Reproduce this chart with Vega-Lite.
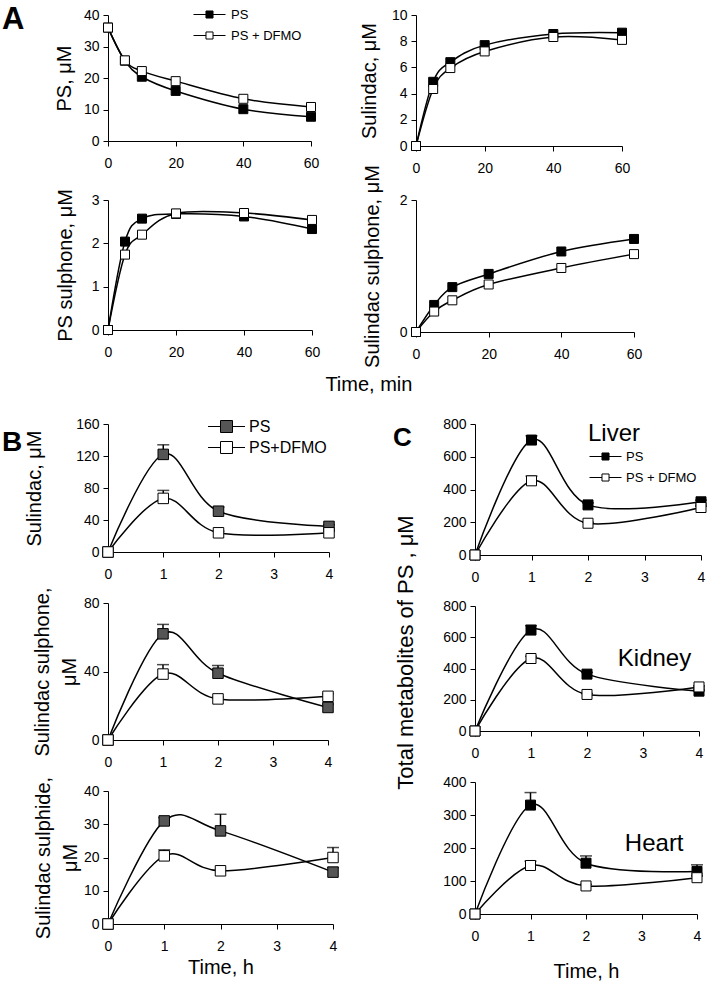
{
"$schema": "https://vega.github.io/schema/vega-lite/v6.json",
"padding": {"left": 2, "top": 4, "right": 0, "bottom": 0},
"config": {
  "font": "Liberation Sans",
  "view": {"stroke": null},
  "axis": {"grid": false, "domainColor": "black", "tickColor": "black", "labelColor": "black", "titleColor": "black", "labelFontSize": 14, "titleFontSize": 20, "titleFontWeight": 400, "tickSize": 5, "labelFont": "Liberation Sans", "titleFont": "Liberation Sans"},
  "axisX": {"labelPadding": 10, "labelFlush": false, "titlePadding": 4, "titleFontWeight": 400},
  "axisY": {"labelPadding": 4, "titlePadding": 10, "titleFontWeight": 400},
  "title": {"font": "Liberation Sans", "color": "black"}
},
"datasets": {
  "A1": [
    {"s":"PS","t":0,"v":36},{"s":"PS","t":5,"v":25.5},{"s":"PS","t":10,"v":20.4},{"s":"PS","t":20,"v":15.9},{"s":"PS","t":40,"v":10.1},{"s":"PS","t":60,"v":7.7},
    {"s":"PS + DFMO","t":0,"v":36},{"s":"PS + DFMO","t":5,"v":25.6},{"s":"PS + DFMO","t":10,"v":22.2},{"s":"PS + DFMO","t":20,"v":19},{"s":"PS + DFMO","t":40,"v":13.4},{"s":"PS + DFMO","t":60,"v":10.8}
  ],
  "A2": [
    {"s":"PS","t":0,"v":0},{"s":"PS","t":5,"v":4.9},{"s":"PS","t":10,"v":6.4},{"s":"PS","t":20,"v":7.7},{"s":"PS","t":40,"v":8.55},{"s":"PS","t":60,"v":8.65},
    {"s":"PS + DFMO","t":0,"v":0},{"s":"PS + DFMO","t":5,"v":4.35},{"s":"PS + DFMO","t":10,"v":5.95},{"s":"PS + DFMO","t":20,"v":7.22},{"s":"PS + DFMO","t":40,"v":8.32},{"s":"PS + DFMO","t":60,"v":8.1}
  ],
  "A3": [
    {"s":"PS","t":0,"v":0},{"s":"PS","t":5,"v":2.04},{"s":"PS","t":10,"v":2.57},{"s":"PS","t":20,"v":2.68},{"s":"PS","t":40,"v":2.62},{"s":"PS","t":60,"v":2.33},
    {"s":"PS + DFMO","t":0,"v":0},{"s":"PS + DFMO","t":5,"v":1.74},{"s":"PS + DFMO","t":10,"v":2.2},{"s":"PS + DFMO","t":20,"v":2.69},{"s":"PS + DFMO","t":40,"v":2.7},{"s":"PS + DFMO","t":60,"v":2.54}
  ],
  "A4": [
    {"s":"PS","t":0,"v":0},{"s":"PS","t":5,"v":0.41},{"s":"PS","t":10,"v":0.68},{"s":"PS","t":20,"v":0.88},{"s":"PS","t":40,"v":1.22},{"s":"PS","t":60,"v":1.41},
    {"s":"PS + DFMO","t":0,"v":0},{"s":"PS + DFMO","t":5,"v":0.31},{"s":"PS + DFMO","t":10,"v":0.48},{"s":"PS + DFMO","t":20,"v":0.72},{"s":"PS + DFMO","t":40,"v":0.97},{"s":"PS + DFMO","t":60,"v":1.18}
  ],
  "B1": [
    {"s":"PS","t":0,"v":0},{"s":"PS","t":1,"v":122,"hi":134},{"s":"PS","t":2,"v":51,"hi":56},{"s":"PS","t":4,"v":32,"hi":34},
    {"s":"PS+DFMO","t":0,"v":0},{"s":"PS+DFMO","t":1,"v":67,"hi":77},{"s":"PS+DFMO","t":2,"v":24,"hi":26},{"s":"PS+DFMO","t":4,"v":24,"hi":26}
  ],
  "B2": [
    {"s":"PS","t":0,"v":0},{"s":"PS","t":1,"v":62,"hi":67.5},{"s":"PS","t":2,"v":39,"hi":43.5},{"s":"PS","t":4,"v":19,"hi":21},
    {"s":"PS+DFMO","t":0,"v":0},{"s":"PS+DFMO","t":1,"v":38.5,"hi":44},{"s":"PS+DFMO","t":2,"v":24,"hi":25},{"s":"PS+DFMO","t":4,"v":25.5,"hi":27}
  ],
  "B3": [
    {"s":"PS","t":0,"v":0},{"s":"PS","t":1,"v":31,"hi":32},{"s":"PS","t":2,"v":28,"hi":33},{"s":"PS","t":4,"v":15.6,"hi":17},
    {"s":"PS+DFMO","t":0,"v":0},{"s":"PS+DFMO","t":1,"v":20.5,"hi":22.3},{"s":"PS+DFMO","t":2,"v":16},{"s":"PS+DFMO","t":4,"v":20,"hi":23}
  ],
  "C1": [
    {"s":"PS","t":0,"v":0},{"s":"PS","t":1,"v":702,"hi":728},{"s":"PS","t":2,"v":306,"hi":318},{"s":"PS","t":4,"v":325,"hi":335},
    {"s":"PS + DFMO","t":0,"v":0},{"s":"PS + DFMO","t":1,"v":453,"hi":482},{"s":"PS + DFMO","t":2,"v":194,"hi":200},{"s":"PS + DFMO","t":4,"v":290,"hi":298}
  ],
  "C2": [
    {"s":"PS","t":0,"v":0},{"s":"PS","t":1,"v":646,"hi":675},{"s":"PS","t":2,"v":364,"hi":375},{"s":"PS","t":4,"v":255,"hi":262},
    {"s":"PS + DFMO","t":0,"v":0},{"s":"PS + DFMO","t":1,"v":464,"hi":478},{"s":"PS + DFMO","t":2,"v":234,"hi":240},{"s":"PS + DFMO","t":4,"v":282,"hi":290}
  ],
  "C3": [
    {"s":"PS","t":0,"v":0},{"s":"PS","t":1,"v":330,"hi":368},{"s":"PS","t":2,"v":154,"hi":176},{"s":"PS","t":4,"v":129,"hi":149},
    {"s":"PS + DFMO","t":0,"v":0},{"s":"PS + DFMO","t":1,"v":147,"hi":160},{"s":"PS + DFMO","t":2,"v":85,"hi":90},{"s":"PS + DFMO","t":4,"v":110,"hi":115}
  ]
},
"columns": 1,
"spacing": 20,
"resolve": {"scale": {"fill": "independent"}, "legend": {"fill": "independent"}},
"concat": [
  {
    "columns": 2,
    "bounds": "flush",
    "spacing": {"row": 54, "column": 104},
    "title": {"text": "Time, min", "orient": "bottom", "anchor": "middle", "fontSize": 20, "fontWeight": 400, "dx": 47, "offset": 8},
    "resolve": {"scale": {"fill": "independent"}, "legend": {"fill": "independent"}},
    "concat": [
      {
        "data": {"name": "A1"}, "width": 203, "height": 126,
        "title": {"text": "A", "anchor": "start", "frame": "group", "fontSize": 31, "fontWeight": "bold", "dx": -106, "dy": 30, "offset": 0},
        "encoding": {
          "x": {"field": "t", "type": "quantitative", "scale": {"domain": [0, 60], "nice": false}, "axis": {"values": [0, 20, 40, 60], "title": null}},
          "y": {"field": "v", "type": "quantitative", "scale": {"domain": [0, 40], "nice": false}, "axis": {"values": [0, 10, 20, 30, 40], "title": "PS, μM", "titlePadding": 9}}
        },
        "layer": [
          {"mark": {"type": "line", "interpolate": "cardinal", "color": "black", "strokeWidth": 1.5}, "encoding": {"detail": {"field": "s"}}},
          {"mark": {"type": "point", "shape": "square", "filled": true, "opacity": 1, "stroke": "black", "strokeWidth": 1, "size": 81},
           "encoding": {"fill": {"field": "s", "type": "nominal", "scale": {"domain": ["PS", "PS + DFMO"], "range": ["black", "white"]},
             "legend": {"orient": "none", "legendX": 93, "legendY": -9, "title": null, "symbolType": "M-2,0H-0.44M0.44,0H2M-0.44,-0.44H0.44V0.44H-0.44Z", "symbolSize": 256, "symbolStrokeColor": "black", "symbolStrokeWidth": 1, "symbolOpacity": 1, "labelFontSize": 13, "labelColor": "black", "labelOffset": 13, "rowPadding": 5, "padding": 0}}}}
        ]
      },
      {
        "data": {"name": "A2"}, "width": 206, "height": 131,
        "encoding": {
          "x": {"field": "t", "type": "quantitative", "scale": {"domain": [0, 60], "nice": false}, "axis": {"values": [0, 20, 40, 60], "title": null}},
          "y": {"field": "v", "type": "quantitative", "scale": {"domain": [0, 10], "nice": false}, "axis": {"values": [0, 2, 4, 6, 8, 10], "title": "Sulindac, μM", "titlePadding": 12}}
        },
        "layer": [
          {"mark": {"type": "line", "interpolate": "cardinal", "color": "black", "strokeWidth": 1.5}, "encoding": {"detail": {"field": "s"}}},
          {"mark": {"type": "point", "shape": "square", "filled": true, "opacity": 1, "stroke": "black", "strokeWidth": 1, "size": 81},
           "encoding": {"fill": {"field": "s", "type": "nominal", "scale": {"domain": ["PS", "PS + DFMO"], "range": ["black", "white"]}, "legend": null}}}
        ]
      },
      {
        "data": {"name": "A3"}, "width": 204, "height": 130,
        "encoding": {
          "x": {"field": "t", "type": "quantitative", "scale": {"domain": [0, 60], "nice": false}, "axis": {"values": [0, 20, 40, 60], "title": null}},
          "y": {"field": "v", "type": "quantitative", "scale": {"domain": [0, 3], "nice": false}, "axis": {"values": [0, 1, 2, 3], "format": "d", "title": "PS sulphone, μM", "titlePadding": 16}}
        },
        "layer": [
          {"mark": {"type": "line", "interpolate": "cardinal", "color": "black", "strokeWidth": 1.5}, "encoding": {"detail": {"field": "s"}}},
          {"mark": {"type": "point", "shape": "square", "filled": true, "opacity": 1, "stroke": "black", "strokeWidth": 1, "size": 81},
           "encoding": {"fill": {"field": "s", "type": "nominal", "scale": {"domain": ["PS", "PS + DFMO"], "range": ["black", "white"]}, "legend": null}}}
        ]
      },
      {
        "data": {"name": "A4"}, "width": 218, "height": 132,
        "encoding": {
          "x": {"field": "t", "type": "quantitative", "scale": {"domain": [0, 60], "nice": false}, "axis": {"values": [0, 20, 40, 60], "title": null}},
          "y": {"field": "v", "type": "quantitative", "scale": {"domain": [0, 2], "nice": false}, "axis": {"values": [0, 1, 2], "format": "d", "title": "Sulindac sulphone, μM", "titlePadding": 17}}
        },
        "layer": [
          {"mark": {"type": "line", "interpolate": "cardinal", "color": "black", "strokeWidth": 1.5}, "encoding": {"detail": {"field": "s"}}},
          {"mark": {"type": "point", "shape": "square", "filled": true, "opacity": 1, "stroke": "black", "strokeWidth": 1, "size": 81},
           "encoding": {"fill": {"field": "s", "type": "nominal", "scale": {"domain": ["PS", "PS + DFMO"], "range": ["black", "white"]}, "legend": null}}}
        ]
      }
    ]
  },
  {
    "hconcat": [
      {
        "vconcat": [
          {
            "data": {"name": "B1"}, "width": 221, "height": 128,
            "title": {"text": "B", "anchor": "start", "frame": "group", "fontSize": 28, "fontWeight": "bold", "dx": -106, "dy": 41, "offset": 0},
            "encoding": {
              "x": {"field": "t", "type": "quantitative", "scale": {"domain": [0, 4], "nice": false}, "axis": {"values": [0, 1, 2, 3, 4], "title": null}},
              "y": {"field": "v", "type": "quantitative", "scale": {"domain": [0, 160], "nice": false}, "axis": {"values": [0, 40, 80, 120, 160], "title": "Sulindac, μM", "titlePadding": 31}}
            },
            "layer": [
              {"mark": {"type": "line", "interpolate": "cardinal", "color": "black", "strokeWidth": 1.5}, "encoding": {"detail": {"field": "s"}}},
              {"transform": [{"filter": "isValid(datum.hi)"}], "mark": {"type": "rule", "color": "black", "strokeWidth": 1.5}, "encoding": {"y2": {"field": "hi"}}},
              {"transform": [{"filter": "isValid(datum.hi)"}], "mark": {"type": "tick", "orient": "horizontal", "color": "black", "thickness": 1.5, "size": 12}, "encoding": {"y": {"field": "hi", "type": "quantitative"}}},
              {"mark": {"type": "point", "shape": "square", "filled": true, "opacity": 1, "stroke": "black", "strokeWidth": 1, "size": 110},
               "encoding": {"fill": {"field": "s", "type": "nominal", "scale": {"domain": ["PS", "PS+DFMO"], "range": ["#555555", "white"]},
                 "legend": {"orient": "none", "legendX": 108, "legendY": -8, "title": null, "symbolType": "M-1.85,0H-0.6M0.6,0H1.85M-0.6,-0.6H0.6V0.6H-0.6Z", "symbolSize": 400, "symbolStrokeColor": "black", "symbolStrokeWidth": 1, "symbolOpacity": 1, "labelFontSize": 16, "labelColor": "black", "labelOffset": 12, "rowPadding": 2, "padding": 0}}}}
            ]
          },
          {
            "data": {"name": "B2"}, "width": 220, "height": 137,
            "encoding": {
              "x": {"field": "t", "type": "quantitative", "scale": {"domain": [0, 4], "nice": false}, "axis": {"values": [0, 1, 2, 3, 4], "title": null}},
              "y": {"field": "v", "type": "quantitative", "scale": {"domain": [0, 80], "nice": false}, "axis": {"values": [0, 40, 80], "title": ["Sulindac sulphone,", "μM"], "titlePadding": 4, "titleLineHeight": 27}}
            },
            "layer": [
              {"mark": {"type": "line", "interpolate": "cardinal", "color": "black", "strokeWidth": 1.5}, "encoding": {"detail": {"field": "s"}}},
              {"transform": [{"filter": "isValid(datum.hi)"}], "mark": {"type": "rule", "color": "black", "strokeWidth": 1.5}, "encoding": {"y2": {"field": "hi"}}},
              {"transform": [{"filter": "isValid(datum.hi)"}], "mark": {"type": "tick", "orient": "horizontal", "color": "black", "thickness": 1.5, "size": 12}, "encoding": {"y": {"field": "hi", "type": "quantitative"}}},
              {"mark": {"type": "point", "shape": "square", "filled": true, "opacity": 1, "stroke": "black", "strokeWidth": 1, "size": 110},
               "encoding": {"fill": {"field": "s", "type": "nominal", "scale": {"domain": ["PS", "PS+DFMO"], "range": ["#555555", "white"]}, "legend": null}}}
            ]
          },
          {
            "data": {"name": "B3"}, "width": 225, "height": 133,
            "encoding": {
              "x": {"field": "t", "type": "quantitative", "scale": {"domain": [0, 4], "nice": false}, "axis": {"values": [0, 1, 2, 3, 4], "title": "Time, h", "titlePadding": 4}},
              "y": {"field": "v", "type": "quantitative", "scale": {"domain": [0, 40], "nice": false}, "axis": {"values": [0, 10, 20, 30, 40], "title": ["Sulindac sulphide,", "μM"], "titlePadding": 3, "titleLineHeight": 27}}
            },
            "layer": [
              {"mark": {"type": "line", "interpolate": "cardinal", "color": "black", "strokeWidth": 1.5}, "encoding": {"detail": {"field": "s"}}},
              {"transform": [{"filter": "isValid(datum.hi)"}], "mark": {"type": "rule", "color": "black", "strokeWidth": 1.5}, "encoding": {"y2": {"field": "hi"}}},
              {"transform": [{"filter": "isValid(datum.hi)"}], "mark": {"type": "tick", "orient": "horizontal", "color": "black", "thickness": 1.5, "size": 12}, "encoding": {"y": {"field": "hi", "type": "quantitative"}}},
              {"mark": {"type": "point", "shape": "square", "filled": true, "opacity": 1, "stroke": "black", "strokeWidth": 1, "size": 110},
               "encoding": {"fill": {"field": "s", "type": "nominal", "scale": {"domain": ["PS", "PS+DFMO"], "range": ["#555555", "white"]}, "legend": null}}}
            ]
          }
        ],
        "bounds": "flush",
        "spacing": 51,
        "resolve": {"scale": {"fill": "independent"}, "legend": {"fill": "independent"}}
      },
      {
        "vconcat": [
          {
            "data": {"name": "C1"}, "width": 226, "height": 131,
            "title": {"text": "C", "anchor": "start", "frame": "group", "fontSize": 26, "fontWeight": "bold", "dx": -82, "dy": 34, "offset": 0},
            "encoding": {
              "x": {"field": "t", "type": "quantitative", "scale": {"domain": [0, 4], "nice": false}, "axis": {"values": [0, 1, 2, 3, 4], "title": null}},
              "y": {"field": "v", "type": "quantitative", "scale": {"domain": [0, 800], "nice": false}, "axis": {"values": [0, 200, 400, 600, 800], "title": null}}
            },
            "layer": [
              {"mark": {"type": "line", "interpolate": "cardinal", "color": "black", "strokeWidth": 1.5}, "encoding": {"detail": {"field": "s"}}},
              {"transform": [{"filter": "isValid(datum.hi)"}], "mark": {"type": "rule", "color": "black", "strokeWidth": 1.5}, "encoding": {"y2": {"field": "hi"}}},
              {"transform": [{"filter": "isValid(datum.hi)"}], "mark": {"type": "tick", "orient": "horizontal", "color": "black", "thickness": 1.5, "size": 12}, "encoding": {"y": {"field": "hi", "type": "quantitative"}}},
              {"mark": {"type": "point", "shape": "square", "filled": true, "opacity": 1, "stroke": "black", "strokeWidth": 1, "size": 100},
               "encoding": {"fill": {"field": "s", "type": "nominal", "scale": {"domain": ["PS", "PS + DFMO"], "range": ["black", "white"]},
                 "legend": {"orient": "none", "legendX": 122, "legendY": 24, "title": null, "symbolType": "M-2,0H-0.44M0.44,0H2M-0.44,-0.44H0.44V0.44H-0.44Z", "symbolSize": 256, "symbolStrokeColor": "black", "symbolStrokeWidth": 1, "symbolOpacity": 1, "labelFontSize": 13, "labelColor": "black", "labelOffset": 12, "rowPadding": 5, "padding": 0}}}},
              {"transform": [{"filter": "datum.t == 0 && datum.s == 'PS'"}], "mark": {"type": "text", "text": "Liver", "align": "left", "baseline": "middle", "fontSize": 24, "color": "black"}, "encoding": {"x": {"datum": 2}, "y": {"datum": 739}}}
            ]
          },
          {
            "data": {"name": "C2"}, "width": 224, "height": 125,
            "encoding": {
              "x": {"field": "t", "type": "quantitative", "scale": {"domain": [0, 4], "nice": false}, "axis": {"values": [0, 1, 2, 3, 4], "title": null}},
              "y": {"field": "v", "type": "quantitative", "scale": {"domain": [0, 800], "nice": false}, "axis": {"values": [0, 200, 400, 600, 800], "title": "Total metabolites of PS , μM", "titleFontSize": 22, "titlePadding": 25, "titleY": 46}}
            },
            "layer": [
              {"mark": {"type": "line", "interpolate": "cardinal", "color": "black", "strokeWidth": 1.5}, "encoding": {"detail": {"field": "s"}}},
              {"transform": [{"filter": "isValid(datum.hi)"}], "mark": {"type": "rule", "color": "black", "strokeWidth": 1.5}, "encoding": {"y2": {"field": "hi"}}},
              {"transform": [{"filter": "isValid(datum.hi)"}], "mark": {"type": "tick", "orient": "horizontal", "color": "black", "thickness": 1.5, "size": 12}, "encoding": {"y": {"field": "hi", "type": "quantitative"}}},
              {"mark": {"type": "point", "shape": "square", "filled": true, "opacity": 1, "stroke": "black", "strokeWidth": 1, "size": 100},
               "encoding": {"fill": {"field": "s", "type": "nominal", "scale": {"domain": ["PS", "PS + DFMO"], "range": ["black", "white"]}, "legend": null}}},
              {"transform": [{"filter": "datum.t == 0 && datum.s == 'PS'"}], "mark": {"type": "text", "text": "Kidney", "align": "left", "baseline": "middle", "fontSize": 24, "color": "black"}, "encoding": {"x": {"datum": 2.55}, "y": {"datum": 461}}}
            ]
          },
          {
            "data": {"name": "C3"}, "width": 222, "height": 132,
            "encoding": {
              "x": {"field": "t", "type": "quantitative", "scale": {"domain": [0, 4], "nice": false}, "axis": {"values": [0, 1, 2, 3, 4], "title": "Time, h", "titlePadding": 18}},
              "y": {"field": "v", "type": "quantitative", "scale": {"domain": [0, 400], "nice": false}, "axis": {"values": [0, 100, 200, 300, 400], "title": null}}
            },
            "layer": [
              {"mark": {"type": "line", "interpolate": "cardinal", "color": "black", "strokeWidth": 1.5}, "encoding": {"detail": {"field": "s"}}},
              {"transform": [{"filter": "isValid(datum.hi)"}], "mark": {"type": "rule", "color": "black", "strokeWidth": 1.5}, "encoding": {"y2": {"field": "hi"}}},
              {"transform": [{"filter": "isValid(datum.hi)"}], "mark": {"type": "tick", "orient": "horizontal", "color": "black", "thickness": 1.5, "size": 12}, "encoding": {"y": {"field": "hi", "type": "quantitative"}}},
              {"mark": {"type": "point", "shape": "square", "filled": true, "opacity": 1, "stroke": "black", "strokeWidth": 1, "size": 100},
               "encoding": {"fill": {"field": "s", "type": "nominal", "scale": {"domain": ["PS", "PS + DFMO"], "range": ["black", "white"]}, "legend": null}}},
              {"transform": [{"filter": "datum.t == 0 && datum.s == 'PS'"}], "mark": {"type": "text", "text": "Heart", "align": "left", "baseline": "middle", "fontSize": 24, "color": "black"}, "encoding": {"x": {"datum": 2.7}, "y": {"datum": 212}}}
            ]
          }
        ],
        "bounds": "flush",
        "spacing": 51,
        "resolve": {"scale": {"fill": "independent"}, "legend": {"fill": "independent"}}
      }
    ],
    "spacing": 52,
    "resolve": {"scale": {"fill": "independent"}, "legend": {"fill": "independent"}}
  }
]
}
